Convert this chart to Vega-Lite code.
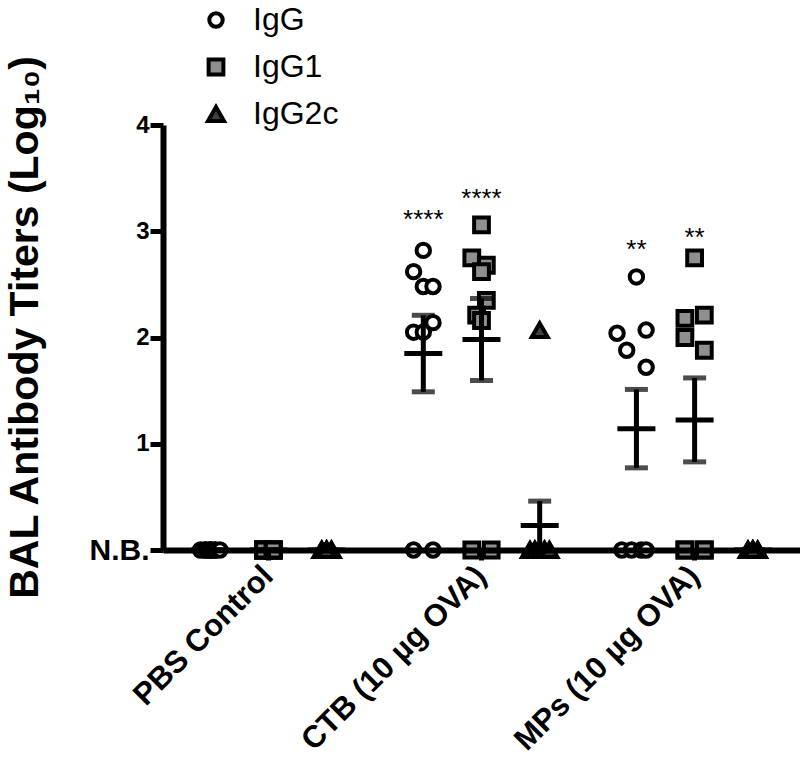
{
  "$schema": "https://vega.github.io/schema/vega-lite/v6.json",
  "width": 637,
  "height": 425,
  "autosize": {"type": "none"},
  "padding": {"left": 163, "top": 125, "right": 0, "bottom": 221},
  "background": "white",
  "config": {
    "view": {"stroke": null},
    "font": "Liberation Sans",
    "axis": {"grid": false, "domainColor": "black", "tickColor": "black", "labelColor": "black", "titleColor": "black", "labelFont": "Liberation Sans", "titleFont": "Liberation Sans"},
    "legend": {
      "orient": "none", "legendX": 37, "legendY": -121, "direction": "vertical", "padding": 0,
      "labelFontSize": 32, "labelFont": "Liberation Sans", "labelColor": "black", "labelOffset": 21, "rowPadding": 15,
      "symbolStrokeColor": "black", "symbolStrokeWidth": 4, "symbolSize": 190
    }
  },
  "data": {
    "values": [
      {"group": "PBS Control", "series": "IgG", "slot": "IgG|-2", "value": 0},
      {"group": "PBS Control", "series": "IgG", "slot": "IgG|-1", "value": 0},
      {"group": "PBS Control", "series": "IgG", "slot": "IgG|-1", "value": 0},
      {"group": "PBS Control", "series": "IgG", "slot": "IgG|0", "value": 0},
      {"group": "PBS Control", "series": "IgG", "slot": "IgG|0", "value": 0},
      {"group": "PBS Control", "series": "IgG", "slot": "IgG|0", "value": 0},
      {"group": "PBS Control", "series": "IgG", "slot": "IgG|1", "value": 0},
      {"group": "PBS Control", "series": "IgG", "slot": "IgG|1", "value": 0},
      {"group": "PBS Control", "series": "IgG", "slot": "IgG|2", "value": 0},
      {"group": "PBS Control", "series": "IgG1", "slot": "IgG1|-1", "value": 0},
      {"group": "PBS Control", "series": "IgG1", "slot": "IgG1|-1", "value": 0},
      {"group": "PBS Control", "series": "IgG1", "slot": "IgG1|-1", "value": 0},
      {"group": "PBS Control", "series": "IgG1", "slot": "IgG1|-1", "value": 0},
      {"group": "PBS Control", "series": "IgG1", "slot": "IgG1|1", "value": 0},
      {"group": "PBS Control", "series": "IgG1", "slot": "IgG1|1", "value": 0},
      {"group": "PBS Control", "series": "IgG1", "slot": "IgG1|1", "value": 0},
      {"group": "PBS Control", "series": "IgG1", "slot": "IgG1|1", "value": 0},
      {"group": "PBS Control", "series": "IgG2c", "slot": "IgG2c|-1", "value": 0},
      {"group": "PBS Control", "series": "IgG2c", "slot": "IgG2c|-1", "value": 0},
      {"group": "PBS Control", "series": "IgG2c", "slot": "IgG2c|0", "value": 0},
      {"group": "PBS Control", "series": "IgG2c", "slot": "IgG2c|0", "value": 0},
      {"group": "PBS Control", "series": "IgG2c", "slot": "IgG2c|1", "value": 0},
      {"group": "PBS Control", "series": "IgG2c", "slot": "IgG2c|1", "value": 0},
      {"group": "PBS Control", "series": "IgG2c", "slot": "IgG2c|0", "value": 0},
      {"group": "PBS Control", "series": "IgG2c", "slot": "IgG2c|0", "value": 0},

      {"group": "CTB (10 µg OVA)", "series": "IgG", "slot": "IgG|0", "value": 2.82},
      {"group": "CTB (10 µg OVA)", "series": "IgG", "slot": "IgG|-2", "value": 2.62},
      {"group": "CTB (10 µg OVA)", "series": "IgG", "slot": "IgG|0", "value": 2.48},
      {"group": "CTB (10 µg OVA)", "series": "IgG", "slot": "IgG|2", "value": 2.48},
      {"group": "CTB (10 µg OVA)", "series": "IgG", "slot": "IgG|2", "value": 2.14},
      {"group": "CTB (10 µg OVA)", "series": "IgG", "slot": "IgG|-2", "value": 2.05},
      {"group": "CTB (10 µg OVA)", "series": "IgG", "slot": "IgG|0", "value": 2.05},
      {"group": "CTB (10 µg OVA)", "series": "IgG", "slot": "IgG|-2", "value": 0},
      {"group": "CTB (10 µg OVA)", "series": "IgG", "slot": "IgG|2", "value": 0},
      {"group": "CTB (10 µg OVA)", "series": "IgG1", "slot": "IgG1|0", "value": 3.06},
      {"group": "CTB (10 µg OVA)", "series": "IgG1", "slot": "IgG1|-2", "value": 2.75},
      {"group": "CTB (10 µg OVA)", "series": "IgG1", "slot": "IgG1|1", "value": 2.68},
      {"group": "CTB (10 µg OVA)", "series": "IgG1", "slot": "IgG1|0", "value": 2.62},
      {"group": "CTB (10 µg OVA)", "series": "IgG1", "slot": "IgG1|1", "value": 2.35},
      {"group": "CTB (10 µg OVA)", "series": "IgG1", "slot": "IgG1|-1", "value": 2.21},
      {"group": "CTB (10 µg OVA)", "series": "IgG1", "slot": "IgG1|0", "value": 2.16},
      {"group": "CTB (10 µg OVA)", "series": "IgG1", "slot": "IgG1|-2", "value": 0},
      {"group": "CTB (10 µg OVA)", "series": "IgG1", "slot": "IgG1|2", "value": 0},
      {"group": "CTB (10 µg OVA)", "series": "IgG2c", "slot": "IgG2c|0", "value": 2.07},
      {"group": "CTB (10 µg OVA)", "series": "IgG2c", "slot": "IgG2c|-2", "value": 0},
      {"group": "CTB (10 µg OVA)", "series": "IgG2c", "slot": "IgG2c|-1", "value": 0},
      {"group": "CTB (10 µg OVA)", "series": "IgG2c", "slot": "IgG2c|-1", "value": 0},
      {"group": "CTB (10 µg OVA)", "series": "IgG2c", "slot": "IgG2c|0", "value": 0},
      {"group": "CTB (10 µg OVA)", "series": "IgG2c", "slot": "IgG2c|0", "value": 0},
      {"group": "CTB (10 µg OVA)", "series": "IgG2c", "slot": "IgG2c|1", "value": 0},
      {"group": "CTB (10 µg OVA)", "series": "IgG2c", "slot": "IgG2c|1", "value": 0},
      {"group": "CTB (10 µg OVA)", "series": "IgG2c", "slot": "IgG2c|2", "value": 0},

      {"group": "MPs (10 µg OVA)", "series": "IgG", "slot": "IgG|0", "value": 2.57},
      {"group": "MPs (10 µg OVA)", "series": "IgG", "slot": "IgG|-4", "value": 2.04},
      {"group": "MPs (10 µg OVA)", "series": "IgG", "slot": "IgG|2", "value": 2.07},
      {"group": "MPs (10 µg OVA)", "series": "IgG", "slot": "IgG|-2", "value": 1.88},
      {"group": "MPs (10 µg OVA)", "series": "IgG", "slot": "IgG|2", "value": 1.72},
      {"group": "MPs (10 µg OVA)", "series": "IgG", "slot": "IgG|-3", "value": 0},
      {"group": "MPs (10 µg OVA)", "series": "IgG", "slot": "IgG|-1", "value": 0},
      {"group": "MPs (10 µg OVA)", "series": "IgG", "slot": "IgG|1", "value": 0},
      {"group": "MPs (10 µg OVA)", "series": "IgG", "slot": "IgG|2", "value": 0},
      {"group": "MPs (10 µg OVA)", "series": "IgG1", "slot": "IgG1|0", "value": 2.75},
      {"group": "MPs (10 µg OVA)", "series": "IgG1", "slot": "IgG1|-2", "value": 2.18},
      {"group": "MPs (10 µg OVA)", "series": "IgG1", "slot": "IgG1|2", "value": 2.21},
      {"group": "MPs (10 µg OVA)", "series": "IgG1", "slot": "IgG1|-2", "value": 2.0},
      {"group": "MPs (10 µg OVA)", "series": "IgG1", "slot": "IgG1|2", "value": 1.88},
      {"group": "MPs (10 µg OVA)", "series": "IgG1", "slot": "IgG1|-2", "value": 0},
      {"group": "MPs (10 µg OVA)", "series": "IgG1", "slot": "IgG1|-2", "value": 0},
      {"group": "MPs (10 µg OVA)", "series": "IgG1", "slot": "IgG1|2", "value": 0},
      {"group": "MPs (10 µg OVA)", "series": "IgG1", "slot": "IgG1|2", "value": 0},
      {"group": "MPs (10 µg OVA)", "series": "IgG2c", "slot": "IgG2c|-1", "value": 0},
      {"group": "MPs (10 µg OVA)", "series": "IgG2c", "slot": "IgG2c|-1", "value": 0},
      {"group": "MPs (10 µg OVA)", "series": "IgG2c", "slot": "IgG2c|0", "value": 0},
      {"group": "MPs (10 µg OVA)", "series": "IgG2c", "slot": "IgG2c|0", "value": 0},
      {"group": "MPs (10 µg OVA)", "series": "IgG2c", "slot": "IgG2c|0", "value": 0},
      {"group": "MPs (10 µg OVA)", "series": "IgG2c", "slot": "IgG2c|1", "value": 0},
      {"group": "MPs (10 µg OVA)", "series": "IgG2c", "slot": "IgG2c|1", "value": 0},
      {"group": "MPs (10 µg OVA)", "series": "IgG2c", "slot": "IgG2c|0", "value": 0},
      {"group": "MPs (10 µg OVA)", "series": "IgG2c", "slot": "IgG2c|0", "value": 0}
    ]
  },
  "encoding": {
    "x": {
      "field": "group", "type": "nominal",
      "sort": ["PBS Control", "CTB (10 µg OVA)", "MPs (10 µg OVA)"],
      "scale": {"domain": ["PBS Control", "CTB (10 µg OVA)", "MPs (10 µg OVA)"], "paddingInner": 0.249, "paddingOuter": 0.119, "round": false},
      "axis": {
        "title": null, "domainWidth": 6, "tickWidth": 5, "tickSize": 10,
        "labelAngle": -45, "labelAlign": "right", "labelBaseline": "middle",
        "labelFontSize": 31, "labelFontWeight": "bold",
        "labelPadding": 11, "labelLimit": 400, "labelOverlap": false, "zindex": 1
      }
    },
    "y": {
      "field": "value", "type": "quantitative",
      "scale": {"domain": [0, 4], "nice": false, "zero": true},
      "axis": {
        "values": [0, 1, 2, 3, 4],
        "labelExpr": "datum.value === 0 ? 'N.B.' : datum.label",
        "title": "BAL Antibody Titers (Log₁₀)",
        "titleFontSize": 41, "titleFontWeight": "bold",
        "titleX": -138, "titleY": 202, "titleAngle": -90, "titleAlign": "center", "titleBaseline": "middle",
        "domainWidth": 6, "tickWidth": 5, "tickSize": 13, "labelPadding": 1,
        "labelFontWeight": "bold",
        "labelFontSize": {"condition": {"test": "datum.value === 0", "value": 30}, "value": 24},
        "zindex": 1
      }
    }
  },
  "layer": [
    {
      "mark": {"type": "point", "filled": true, "strokeWidth": 4, "opacity": 1},
      "encoding": {
        "xOffset": {
          "field": "slot", "type": "nominal",
          "scale": {
            "domain": ["IgG|-4","IgG|-3","IgG|-2","IgG|-1","IgG|0","IgG|1","IgG|2","IgG|3","IgG|4","gap1","gap2","gap3","IgG1|-4","IgG1|-3","IgG1|-2","IgG1|-1","IgG1|0","IgG1|1","IgG1|2","IgG1|3","IgG1|4","gap4","gap5","gap6","IgG2c|-4","IgG2c|-3","IgG2c|-2","IgG2c|-1","IgG2c|0","IgG2c|1","IgG2c|2","IgG2c|3","IgG2c|4"],
            "paddingInner": 0, "paddingOuter": 0, "round": false
          }
        },
        "shape": {
          "field": "series", "type": "nominal",
          "scale": {"domain": ["IgG", "IgG1", "IgG2c"], "range": ["circle", "square", "triangle-up"]},
          "legend": {"title": null}
        },
        "fill": {
          "field": "series", "type": "nominal",
          "scale": {"domain": ["IgG", "IgG1", "IgG2c"], "range": ["#ffffff", "#8f8f8f", "#404040"]},
          "legend": {"title": null}
        },
        "stroke": {
          "field": "series", "type": "nominal",
          "scale": {"domain": ["IgG", "IgG1", "IgG2c"], "range": ["#000000", "#000000", "#000000"]},
          "legend": {"title": null}
        },
        "size": {
          "field": "series", "type": "nominal",
          "scale": {"domain": ["IgG", "IgG1", "IgG2c"], "range": [180, 256, 220]},
          "legend": {"title": null}
        }
      }
    },
    {
      "transform": [{"calculate": "datum.series + '|0'", "as": "center"}],
      "mark": {"type": "errorbar", "extent": "stderr", "ticks": true, "size": 23, "thickness": 5, "color": "black"},
      "encoding": {
        "xOffset": {"field": "center", "type": "nominal"}
      }
    },
    {
      "transform": [{"calculate": "datum.series + '|0'", "as": "center"}],
      "mark": {"type": "tick", "size": 38, "thickness": 5, "color": "black", "opacity": 1},
      "encoding": {
        "xOffset": {"field": "center", "type": "nominal"},
        "y": {"aggregate": "mean", "field": "value", "type": "quantitative"}
      }
    },
    {
      "data": {
        "values": [
          {"group": "CTB (10 µg OVA)", "slot": "IgG|0", "value": 3.17, "label": "****"},
          {"group": "CTB (10 µg OVA)", "slot": "IgG1|0", "value": 3.37, "label": "****"},
          {"group": "MPs (10 µg OVA)", "slot": "IgG|0", "value": 2.89, "label": "**"},
          {"group": "MPs (10 µg OVA)", "slot": "IgG1|0", "value": 3.0, "label": "**"}
        ]
      },
      "mark": {"type": "text", "fontSize": 26, "font": "Liberation Sans", "color": "black", "baseline": "alphabetic", "align": "center", "dy": 15},
      "encoding": {
        "xOffset": {"field": "slot", "type": "nominal"},
        "text": {"field": "label"}
      }
    }
  ]
}
